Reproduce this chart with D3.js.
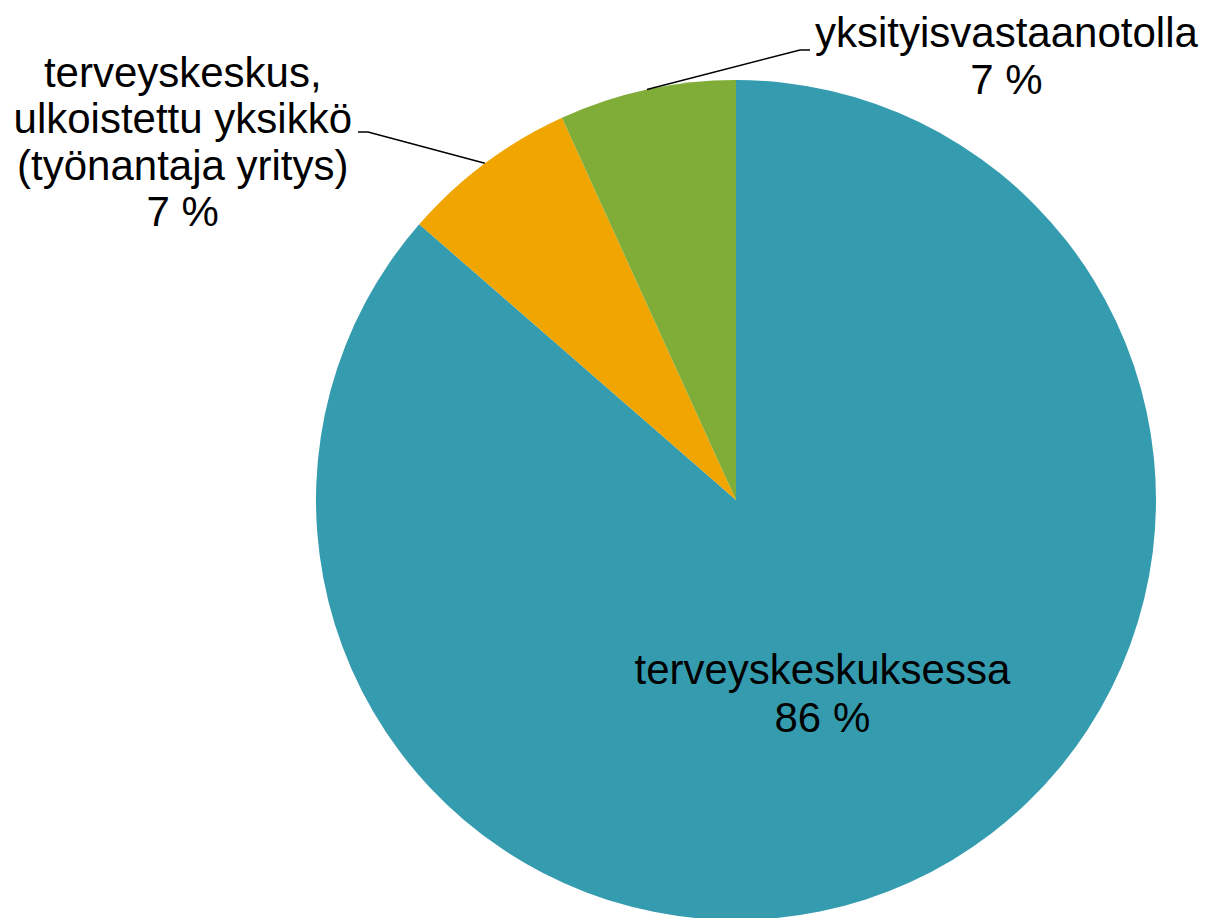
<!DOCTYPE html>
<html>
<head>
<meta charset="utf-8">
<script src="https://cdn.jsdelivr.net/npm/d3@7"></script>
<style>
  html, body { margin: 0; padding: 0; background: #fff; }
  svg { display: block; }
  text { font-family: "Liberation Sans", Arial, sans-serif; font-size: 42px; fill: #000; }
</style>
</head>
<body>
<div id="chart"></div>
<script>
var labels = ['terveyskeskuksessa', 'terveyskeskus,\nulkoistettu yksikkö\n(työnantaja yritys)', 'yksityisvastaanotolla'];
var values = [86.4, 6.8, 6.8];
var shown = ['86 %', '7 %', '7 %'];
var colors = ['#359caf', '#f0a500', '#80ad38'];

var width = 1205,
    height = 918,
    radius = 420,
    cx = 736,
    cy = 500;

// where the outside labels sit, relative to the pie centre (elbow of leader line)
var elbow = [null, [-368, -368], [64, -450]];
var textDy = [0, 1, -3];
var lineH = 46.5;

var data = labels.map(function(l, i) {
    return {label: l, value: values[i], text: shown[i], color: colors[i]};
});

var pie = d3.pie()
    .sort(null)
    .value(function(d) { return d.value; });

var arc = d3.arc()
    .outerRadius(radius)
    .innerRadius(0);

var labelArc = d3.arc()
    .outerRadius(radius * 1.05)
    .innerRadius(0);

var svg = d3.select('#chart')
    .append('svg')
    .attr('width', width)
    .attr('height', height)
    .append('g')
    .attr('transform', 'translate(' + cx + ',' + cy + ')');

var arcs = pie(data);

svg.selectAll('path.slice')
    .data(arcs)
    .enter()
    .append('path')
    .attr('class', 'slice')
    .attr('d', arc)
    .attr('fill', function(d) { return d.data.color; });

arcs.forEach(function(d, i) {
    var lines = d.data.label.split('\n').concat([d.data.text]);
    var x, y, g;
    if (!elbow[i]) {
        var c = labelArc.centroid(d);
        x = c[0] - 5; y = c[1];
        g = svg.append('text')
            .attr('text-anchor', 'middle')
            .attr('transform', 'translate(' + x + ',' + y + ')');
        lines.forEach(function(t, j) {
            g.append('tspan')
                .attr('x', 0)
                .attr('y', (j - (lines.length - 1) / 2) * 48 + 7)
                .text(t);
        });
        return;
    }
    var mid = (d.startAngle + d.endAngle) / 2;
    var p0 = [Math.sin(mid) * radius, -Math.cos(mid) * radius];
    var e = elbow[i];
    var side = e[0] < 0 ? -1 : 1;
    var p2 = [e[0] + side * 10, e[1]];
    svg.append('polyline')
        .attr('points', [p0, e, p2].map(function(p) { return p.join(','); }).join(' '))
        .attr('fill', 'none')
        .attr('stroke', '#000')
        .attr('stroke-width', 1.5);

    var tb = svg.append('text').attr('text-anchor', 'middle');
    var textW = 0;
    // measure widest line first
    lines.forEach(function(t) {
        var tmp = svg.append('text').text(t);
        textW = Math.max(textW, tmp.node().getComputedTextLength());
        tmp.remove();
    });
    var tx = side < 0 ? p2[0] - 6 - textW / 2 : p2[0] + 5 + textW / 2;
    // the elbow sits beside row 1 (left) or row 0 (right)
    var row = side < 0 ? 1 : 0;
    lines.forEach(function(t, j) {
        tb.append('tspan')
            .attr('x', tx)
            .attr('y', e[1] + (j - row) * lineH + textDy[i])
            .text(t);
    });
});
</script>
</body>
</html>
